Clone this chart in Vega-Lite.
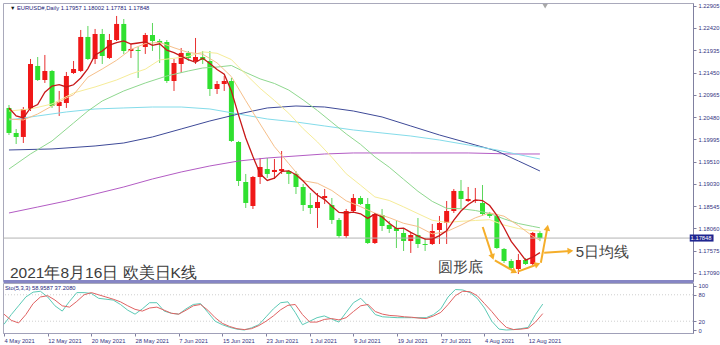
{
"$schema":"https://vega.github.io/schema/vega-lite/v6.json",
"padding":{"left":1,"top":2,"right":0,"bottom":0},
"background":"white",
"spacing":2,
"bounds":"flush",
"config":{"view":{"stroke":"#a9a9bb","strokeWidth":1},"text":{"font":"Liberation Sans"},"axis":{"labelFont":"Liberation Sans"}},
"datasets":{
"candles":[
{"i":0,"o":1.20679,"h":1.20744,"l":1.20091,"c":1.20135},
{"i":1,"o":1.20135,"h":1.20222,"l":1.19895,"c":1.20048},
{"i":2,"o":1.20048,"h":1.20700,"l":1.19917,"c":1.20657},
{"i":3,"o":1.20657,"h":1.21745,"l":1.20613,"c":1.21636},
{"i":4,"o":1.21593,"h":1.21788,"l":1.21266,"c":1.21288},
{"i":5,"o":1.21288,"h":1.21832,"l":1.21223,"c":1.21484},
{"i":6,"o":1.21484,"h":1.21506,"l":1.20679,"c":1.20722},
{"i":7,"o":1.20722,"h":1.21049,"l":1.20505,"c":1.20809},
{"i":8,"o":1.20788,"h":1.21462,"l":1.20679,"c":1.21375},
{"i":9,"o":1.21440,"h":1.21701,"l":1.21419,"c":1.21527},
{"i":10,"o":1.21484,"h":1.22376,"l":1.21462,"c":1.22224},
{"i":11,"o":1.22224,"h":1.22463,"l":1.21723,"c":1.21745},
{"i":12,"o":1.21745,"h":1.22398,"l":1.21636,"c":1.22289},
{"i":13,"o":1.22289,"h":1.22398,"l":1.21636,"c":1.21810},
{"i":14,"o":1.21767,"h":1.22289,"l":1.21745,"c":1.22158},
{"i":15,"o":1.22158,"h":1.22681,"l":1.22137,"c":1.22507},
{"i":16,"o":1.22507,"h":1.22615,"l":1.21854,"c":1.21919},
{"i":17,"o":1.21919,"h":1.22071,"l":1.21767,"c":1.21963},
{"i":18,"o":1.21941,"h":1.22006,"l":1.21332,"c":1.21919},
{"i":19,"o":1.22006,"h":1.22311,"l":1.21854,"c":1.22267},
{"i":20,"o":1.22267,"h":1.22528,"l":1.21919,"c":1.22137},
{"i":21,"o":1.22137,"h":1.22180,"l":1.21658,"c":1.22093},
{"i":22,"o":1.22115,"h":1.22158,"l":1.21223,"c":1.21266},
{"i":23,"o":1.21266,"h":1.21745,"l":1.21049,"c":1.21658},
{"i":24,"o":1.21636,"h":1.21984,"l":1.21440,"c":1.21876},
{"i":25,"o":1.21876,"h":1.21919,"l":1.21701,"c":1.21767},
{"i":26,"o":1.21701,"h":1.22202,"l":1.21636,"c":1.21788},
{"i":27,"o":1.21788,"h":1.21919,"l":1.21636,"c":1.21723},
{"i":28,"o":1.21701,"h":1.21919,"l":1.20940,"c":1.21092},
{"i":29,"o":1.21092,"h":1.21266,"l":1.20983,"c":1.21201},
{"i":30,"o":1.21201,"h":1.21375,"l":1.21049,"c":1.21266},
{"i":31,"o":1.21266,"h":1.21332,"l":1.19939,"c":1.19961},
{"i":32,"o":1.19939,"h":1.19961,"l":1.18981,"c":1.19090},
{"i":33,"o":1.19068,"h":1.19243,"l":1.18503,"c":1.18612},
{"i":34,"o":1.18546,"h":1.19199,"l":1.18481,"c":1.19177},
{"i":35,"o":1.19177,"h":1.19591,"l":1.19025,"c":1.19395},
{"i":36,"o":1.19351,"h":1.19591,"l":1.19156,"c":1.19243},
{"i":37,"o":1.19286,"h":1.19569,"l":1.19134,"c":1.19330},
{"i":38,"o":1.19308,"h":1.19743,"l":1.19243,"c":1.19351},
{"i":39,"o":1.19308,"h":1.19330,"l":1.19025,"c":1.19243},
{"i":40,"o":1.19243,"h":1.19308,"l":1.18807,"c":1.18960},
{"i":41,"o":1.18960,"h":1.19025,"l":1.18437,"c":1.18568},
{"i":42,"o":1.18568,"h":1.18829,"l":1.18372,"c":1.18503},
{"i":43,"o":1.18503,"h":1.18829,"l":1.18068,"c":1.18633},
{"i":44,"o":1.18720,"h":1.18916,"l":1.18590,"c":1.18764},
{"i":45,"o":1.18568,"h":1.18720,"l":1.18155,"c":1.18242},
{"i":46,"o":1.18242,"h":1.18285,"l":1.17850,"c":1.17893},
{"i":47,"o":1.17893,"h":1.18481,"l":1.17850,"c":1.18437},
{"i":48,"o":1.18437,"h":1.18807,"l":1.18394,"c":1.18720},
{"i":49,"o":1.18720,"h":1.18764,"l":1.18568,"c":1.18590},
{"i":50,"o":1.18590,"h":1.18720,"l":1.17719,"c":1.17741},
{"i":51,"o":1.17741,"h":1.18394,"l":1.17719,"c":1.18372},
{"i":52,"o":1.18350,"h":1.18481,"l":1.18002,"c":1.18111},
{"i":53,"o":1.18133,"h":1.18220,"l":1.17959,"c":1.18046},
{"i":54,"o":1.18068,"h":1.18220,"l":1.17632,"c":1.18002},
{"i":55,"o":1.17959,"h":1.18068,"l":1.17567,"c":1.17785},
{"i":56,"o":1.17785,"h":1.17959,"l":1.17524,"c":1.17915},
{"i":57,"o":1.17915,"h":1.18285,"l":1.17632,"c":1.17719},
{"i":58,"o":1.17719,"h":1.17850,"l":1.17567,"c":1.17698},
{"i":59,"o":1.17719,"h":1.18155,"l":1.17698,"c":1.18002},
{"i":60,"o":1.18024,"h":1.18329,"l":1.17719,"c":1.18176},
{"i":61,"o":1.18176,"h":1.18655,"l":1.17719,"c":1.18437},
{"i":62,"o":1.18437,"h":1.18916,"l":1.18394,"c":1.18873},
{"i":63,"o":1.18873,"h":1.19112,"l":1.18503,"c":1.18699},
{"i":64,"o":1.18655,"h":1.18960,"l":1.18633,"c":1.18699},
{"i":65,"o":1.18655,"h":1.18938,"l":1.18612,"c":1.18677},
{"i":66,"o":1.18612,"h":1.19003,"l":1.18329,"c":1.18372},
{"i":67,"o":1.18372,"h":1.18416,"l":1.18285,"c":1.18329},
{"i":68,"o":1.18329,"h":1.18372,"l":1.17611,"c":1.17632},
{"i":69,"o":1.17611,"h":1.17632,"l":1.17306,"c":1.17349},
{"i":70,"o":1.17349,"h":1.17393,"l":1.17175,"c":1.17197},
{"i":71,"o":1.17175,"h":1.17502,"l":1.17067,"c":1.17371},
{"i":72,"o":1.17371,"h":1.17415,"l":1.17262,"c":1.17284},
{"i":73,"o":1.17284,"h":1.17980,"l":1.17262,"c":1.17959},
{"i":74,"o":1.17957,"h":1.18002,"l":1.17781,"c":1.17848}
],
"ma":[
{"m":"ma240","i":0,"p":1.18394},{"m":"ma240","i":4,"p":1.18524},{"m":"ma240","i":8,"p":1.18655},{"m":"ma240","i":12,"p":1.18807},{"m":"ma240","i":16,"p":1.18960},{"m":"ma240","i":20,"p":1.19134},{"m":"ma240","i":24,"p":1.19286},{"m":"ma240","i":28,"p":1.19417},{"m":"ma240","i":32,"p":1.19525},{"m":"ma240","i":36,"p":1.19591},{"m":"ma240","i":40,"p":1.19634},{"m":"ma240","i":44,"p":1.19678},{"m":"ma240","i":48,"p":1.19700},{"m":"ma240","i":56,"p":1.19700},{"m":"ma240","i":64,"p":1.19700},{"m":"ma240","i":70,"p":1.19678},{"m":"ma240","i":74,"p":1.19678},
{"m":"ma120","i":0,"p":1.19765},{"m":"ma120","i":6,"p":1.19787},{"m":"ma120","i":12,"p":1.19852},{"m":"ma120","i":16,"p":1.19917},{"m":"ma120","i":20,"p":1.20048},{"m":"ma120","i":24,"p":1.20222},{"m":"ma120","i":28,"p":1.20396},{"m":"ma120","i":32,"p":1.20548},{"m":"ma120","i":36,"p":1.20679},{"m":"ma120","i":40,"p":1.20722},{"m":"ma120","i":44,"p":1.20700},{"m":"ma120","i":48,"p":1.20613},{"m":"ma120","i":52,"p":1.20483},{"m":"ma120","i":56,"p":1.20287},{"m":"ma120","i":60,"p":1.20091},{"m":"ma120","i":64,"p":1.19917},{"m":"ma120","i":68,"p":1.19743},{"m":"ma120","i":71,"p":1.19526},{"m":"ma120","i":74,"p":1.19308},
{"m":"ma60","i":0,"p":1.20418},{"m":"ma60","i":4,"p":1.20505},{"m":"ma60","i":8,"p":1.20592},{"m":"ma60","i":12,"p":1.20657},{"m":"ma60","i":16,"p":1.20679},{"m":"ma60","i":20,"p":1.20700},{"m":"ma60","i":24,"p":1.20700},{"m":"ma60","i":28,"p":1.20657},{"m":"ma60","i":32,"p":1.20548},{"m":"ma60","i":36,"p":1.20439},{"m":"ma60","i":40,"p":1.20374},{"m":"ma60","i":44,"p":1.20287},{"m":"ma60","i":48,"p":1.20200},{"m":"ma60","i":52,"p":1.20135},{"m":"ma60","i":56,"p":1.20069},{"m":"ma60","i":60,"p":1.19982},{"m":"ma60","i":64,"p":1.19874},{"m":"ma60","i":68,"p":1.19765},{"m":"ma60","i":72,"p":1.19634},{"m":"ma60","i":74,"p":1.19569},
{"m":"ma30","i":0,"p":1.19351},{"m":"ma30","i":3,"p":1.19678},{"m":"ma30","i":6,"p":1.19961},{"m":"ma30","i":9,"p":1.20352},{"m":"ma30","i":11,"p":1.20613},{"m":"ma30","i":13,"p":1.20831},{"m":"ma30","i":16,"p":1.21049},{"m":"ma30","i":19,"p":1.21223},{"m":"ma30","i":22,"p":1.21375},{"m":"ma30","i":25,"p":1.21484},{"m":"ma30","i":27,"p":1.21549},{"m":"ma30","i":29,"p":1.21569},{"m":"ma30","i":31,"p":1.21603},{"m":"ma30","i":33,"p":1.21451},{"m":"ma30","i":35,"p":1.21312},{"m":"ma30","i":37,"p":1.21212},{"m":"ma30","i":39,"p":1.21068},{"m":"ma30","i":41,"p":1.20855},{"m":"ma30","i":43,"p":1.20622},{"m":"ma30","i":45,"p":1.20368},{"m":"ma30","i":47,"p":1.20115},{"m":"ma30","i":49,"p":1.19887},{"m":"ma30","i":51,"p":1.19615},{"m":"ma30","i":53,"p":1.19390},{"m":"ma30","i":55,"p":1.19127},{"m":"ma30","i":57,"p":1.18866},{"m":"ma30","i":59,"p":1.18646},{"m":"ma30","i":61,"p":1.18494},{"m":"ma30","i":63,"p":1.18487},{"m":"ma30","i":65,"p":1.18448},{"m":"ma30","i":67,"p":1.18385},{"m":"ma30","i":69,"p":1.18265},{"m":"ma30","i":71,"p":1.18165},{"m":"ma30","i":73,"p":1.18102},{"m":"ma30","i":74,"p":1.18072},
{"m":"ma20","i":0,"p":1.20613},{"m":"ma20","i":3,"p":1.20657},{"m":"ma20","i":6,"p":1.20766},{"m":"ma20","i":9,"p":1.21005},{"m":"ma20","i":12,"p":1.21136},{"m":"ma20","i":15,"p":1.21288},{"m":"ma20","i":17,"p":1.21419},{"m":"ma20","i":19,"p":1.21523},{"m":"ma20","i":21,"p":1.21725},{"m":"ma20","i":23,"p":1.21760},{"m":"ma20","i":25,"p":1.21802},{"m":"ma20","i":27,"p":1.21899},{"m":"ma20","i":29,"p":1.21869},{"m":"ma20","i":31,"p":1.21732},{"m":"ma20","i":33,"p":1.21412},{"m":"ma20","i":35,"p":1.21107},{"m":"ma20","i":37,"p":1.20842},{"m":"ma20","i":39,"p":1.20563},{"m":"ma20","i":41,"p":1.20228},{"m":"ma20","i":43,"p":1.19939},{"m":"ma20","i":45,"p":1.19606},{"m":"ma20","i":47,"p":1.19247},{"m":"ma20","i":49,"p":1.18999},{"m":"ma20","i":51,"p":1.18743},{"m":"ma20","i":53,"p":1.18666},{"m":"ma20","i":55,"p":1.18527},{"m":"ma20","i":57,"p":1.18380},{"m":"ma20","i":59,"p":1.18235},{"m":"ma20","i":61,"p":1.18189},{"m":"ma20","i":63,"p":1.18213},{"m":"ma20","i":65,"p":1.18231},{"m":"ma20","i":67,"p":1.18248},{"m":"ma20","i":69,"p":1.18132},{"m":"ma20","i":71,"p":1.18055},{"m":"ma20","i":73,"p":1.18009},{"m":"ma20","i":74,"p":1.18000},
{"m":"ma10","i":0,"p":1.20439},{"m":"ma10","i":2,"p":1.20418},{"m":"ma10","i":4,"p":1.20548},{"m":"ma10","i":6,"p":1.20722},{"m":"ma10","i":8,"p":1.20896},{"m":"ma10","i":9,"p":1.20968},{"m":"ma10","i":11,"p":1.21349},{"m":"ma10","i":13,"p":1.21527},{"m":"ma10","i":15,"p":1.21717},{"m":"ma10","i":17,"p":1.21952},{"m":"ma10","i":19,"p":1.22080},{"m":"ma10","i":21,"p":1.22106},{"m":"ma10","i":23,"p":1.21989},{"m":"ma10","i":25,"p":1.21886},{"m":"ma10","i":27,"p":1.21849},{"m":"ma10","i":29,"p":1.21660},{"m":"ma10","i":31,"p":1.21360},{"m":"ma10","i":33,"p":1.20838},{"m":"ma10","i":35,"p":1.20331},{"m":"ma10","i":37,"p":1.19837},{"m":"ma10","i":39,"p":1.19467},{"m":"ma10","i":41,"p":1.19097},{"m":"ma10","i":43,"p":1.19040},{"m":"ma10","i":45,"p":1.18883},{"m":"ma10","i":47,"p":1.18659},{"m":"ma10","i":49,"p":1.18531},{"m":"ma10","i":51,"p":1.18390},{"m":"ma10","i":53,"p":1.18292},{"m":"ma10","i":55,"p":1.18170},{"m":"ma10","i":57,"p":1.18100},{"m":"ma10","i":59,"p":1.17939},{"m":"ma10","i":61,"p":1.17989},{"m":"ma10","i":63,"p":1.18131},{"m":"ma10","i":65,"p":1.18289},{"m":"ma10","i":67,"p":1.18396},{"m":"ma10","i":69,"p":1.18324},{"m":"ma10","i":71,"p":1.18120},{"m":"ma10","i":73,"p":1.17887},{"m":"ma10","i":74,"p":1.17802}
],
"ma5":[
{"i":0,"p":1.20679},{"i":1,"p":1.20505},{"i":2,"p":1.20461},{"i":3,"p":1.20679},{"i":4,"p":1.20753},{"i":5,"p":1.21023},{"i":6,"p":1.21157},{"i":7,"p":1.21188},{"i":8,"p":1.21136},{"i":9,"p":1.21184},{"i":10,"p":1.21331},{"i":11,"p":1.21536},{"i":12,"p":1.21832},{"i":13,"p":1.21919},{"i":14,"p":1.22045},{"i":15,"p":1.22102},{"i":16,"p":1.22137},{"i":17,"p":1.22071},{"i":18,"p":1.22093},{"i":19,"p":1.22115},{"i":20,"p":1.22041},{"i":21,"p":1.22076},{"i":22,"p":1.21936},{"i":23,"p":1.21884},{"i":24,"p":1.21806},{"i":25,"p":1.21732},{"i":26,"p":1.21671},{"i":27,"p":1.21762},{"i":28,"p":1.21649},{"i":29,"p":1.21514},{"i":30,"p":1.21414},{"i":31,"p":1.21049},{"i":32,"p":1.20522},{"i":33,"p":1.20026},{"i":34,"p":1.19621},{"i":35,"p":1.19247},{"i":36,"p":1.19103},{"i":37,"p":1.19151},{"i":38,"p":1.19299},{"i":39,"p":1.19312},{"i":40,"p":1.19225},{"i":41,"p":1.19090},{"i":42,"p":1.18925},{"i":43,"p":1.18781},{"i":44,"p":1.18685},{"i":45,"p":1.18542},{"i":46,"p":1.18407},{"i":47,"p":1.18394},{"i":48,"p":1.18411},{"i":49,"p":1.18376},{"i":50,"p":1.18276},{"i":51,"p":1.18372},{"i":52,"p":1.18307},{"i":53,"p":1.18172},{"i":54,"p":1.18054},{"i":55,"p":1.18063},{"i":56,"p":1.17972},{"i":57,"p":1.17893},{"i":58,"p":1.17824},{"i":59,"p":1.17824},{"i":60,"p":1.17902},{"i":61,"p":1.18007},{"i":62,"p":1.18237},{"i":63,"p":1.18437},{"i":64,"p":1.18577},{"i":65,"p":1.18677},{"i":66,"p":1.18664},{"i":67,"p":1.18555},{"i":68,"p":1.18342},{"i":69,"p":1.18072},{"i":70,"p":1.17776},{"i":71,"p":1.17576},{"i":72,"p":1.17367},{"i":73,"p":1.17432},{"i":74,"p":1.17532}
],
"stoch":[
{"s":"K","i":0,"v":13},{"s":"K","i":1,"v":35},{"s":"K","i":2,"v":55},{"s":"K","i":3,"v":75},{"s":"K","i":4,"v":86},{"s":"K","i":5,"v":88},{"s":"K","i":6,"v":75},{"s":"K","i":7,"v":55},{"s":"K","i":8,"v":43},{"s":"K","i":9,"v":65},{"s":"K","i":10,"v":85},{"s":"K","i":11,"v":85},{"s":"K","i":12,"v":83},{"s":"K","i":13,"v":72},{"s":"K","i":14,"v":70},{"s":"K","i":15,"v":68},{"s":"K","i":16,"v":58},{"s":"K","i":17,"v":45},{"s":"K","i":18,"v":36},{"s":"K","i":19,"v":48},{"s":"K","i":20,"v":62},{"s":"K","i":21,"v":62},{"s":"K","i":22,"v":43},{"s":"K","i":23,"v":38},{"s":"K","i":24,"v":36},{"s":"K","i":25,"v":48},{"s":"K","i":26,"v":58},{"s":"K","i":27,"v":60},{"s":"K","i":28,"v":40},{"s":"K","i":29,"v":20},{"s":"K","i":30,"v":12},{"s":"K","i":31,"v":6},{"s":"K","i":32,"v":2},{"s":"K","i":33,"v":0},{"s":"K","i":34,"v":5},{"s":"K","i":35,"v":12},{"s":"K","i":36,"v":30},{"s":"K","i":37,"v":48},{"s":"K","i":38,"v":62},{"s":"K","i":39,"v":64},{"s":"K","i":40,"v":40},{"s":"K","i":41,"v":12},{"s":"K","i":42,"v":20},{"s":"K","i":43,"v":28},{"s":"K","i":44,"v":32},{"s":"K","i":45,"v":25},{"s":"K","i":46,"v":18},{"s":"K","i":47,"v":40},{"s":"K","i":48,"v":62},{"s":"K","i":49,"v":72},{"s":"K","i":50,"v":55},{"s":"K","i":51,"v":35},{"s":"K","i":52,"v":30},{"s":"K","i":53,"v":29},{"s":"K","i":54,"v":28},{"s":"K","i":55,"v":28},{"s":"K","i":56,"v":28},{"s":"K","i":57,"v":28},{"s":"K","i":58,"v":28},{"s":"K","i":59,"v":35},{"s":"K","i":60,"v":48},{"s":"K","i":61,"v":75},{"s":"K","i":62,"v":92},{"s":"K","i":63,"v":91},{"s":"K","i":64,"v":85},{"s":"K","i":65,"v":72},{"s":"K","i":66,"v":50},{"s":"K","i":67,"v":20},{"s":"K","i":68,"v":2},{"s":"K","i":69,"v":0},{"s":"K","i":70,"v":1},{"s":"K","i":71,"v":3},{"s":"K","i":72,"v":6},{"s":"K","i":73,"v":35},{"s":"K","i":74,"v":58.96},
{"s":"D","i":0,"v":36},{"s":"D","i":1,"v":22},{"s":"D","i":2,"v":16},{"s":"D","i":3,"v":35},{"s":"D","i":4,"v":60},{"s":"D","i":5,"v":75},{"s":"D","i":6,"v":78},{"s":"D","i":7,"v":68},{"s":"D","i":8,"v":55},{"s":"D","i":9,"v":52},{"s":"D","i":10,"v":65},{"s":"D","i":11,"v":80},{"s":"D","i":12,"v":85},{"s":"D","i":13,"v":80},{"s":"D","i":14,"v":75},{"s":"D","i":15,"v":70},{"s":"D","i":16,"v":64},{"s":"D","i":17,"v":55},{"s":"D","i":18,"v":47},{"s":"D","i":19,"v":43},{"s":"D","i":20,"v":50},{"s":"D","i":21,"v":52},{"s":"D","i":22,"v":45},{"s":"D","i":23,"v":38},{"s":"D","i":24,"v":36},{"s":"D","i":25,"v":45},{"s":"D","i":26,"v":55},{"s":"D","i":27,"v":58},{"s":"D","i":28,"v":45},{"s":"D","i":29,"v":28},{"s":"D","i":30,"v":15},{"s":"D","i":31,"v":8},{"s":"D","i":32,"v":3},{"s":"D","i":33,"v":1},{"s":"D","i":34,"v":3},{"s":"D","i":35,"v":10},{"s":"D","i":36,"v":20},{"s":"D","i":37,"v":32},{"s":"D","i":38,"v":46},{"s":"D","i":39,"v":56},{"s":"D","i":40,"v":58},{"s":"D","i":41,"v":35},{"s":"D","i":42,"v":18},{"s":"D","i":43,"v":18},{"s":"D","i":44,"v":24},{"s":"D","i":45,"v":26},{"s":"D","i":46,"v":23},{"s":"D","i":47,"v":28},{"s":"D","i":48,"v":42},{"s":"D","i":49,"v":55},{"s":"D","i":50,"v":58},{"s":"D","i":51,"v":42},{"s":"D","i":52,"v":36},{"s":"D","i":53,"v":33},{"s":"D","i":54,"v":32},{"s":"D","i":55,"v":30},{"s":"D","i":56,"v":29},{"s":"D","i":57,"v":27},{"s":"D","i":58,"v":26},{"s":"D","i":59,"v":32},{"s":"D","i":60,"v":40},{"s":"D","i":61,"v":58},{"s":"D","i":62,"v":78},{"s":"D","i":63,"v":88},{"s":"D","i":64,"v":87},{"s":"D","i":65,"v":78},{"s":"D","i":66,"v":60},{"s":"D","i":67,"v":42},{"s":"D","i":68,"v":22},{"s":"D","i":69,"v":6},{"s":"D","i":70,"v":1},{"s":"D","i":71,"v":2},{"s":"D","i":72,"v":4},{"s":"D","i":73,"v":18},{"s":"D","i":74,"v":37.21}
],
"arrows":[
{"i":66.03,"p":1.18089,"i2":67.40,"p2":1.17436},
{"i":67.72,"p":1.17365,"i2":70.47,"p2":1.17117},
{"i":70.92,"p":1.17117,"i2":73.67,"p2":1.17278},
{"i":74.13,"p":1.17312,"i2":75.04,"p2":1.18074},
{"i":74.59,"p":1.17530,"i2":78.25,"p2":1.17567}
],
"heads":[
{"i":67.40,"p":1.17436,"a":161.6},
{"i":70.47,"p":1.17117,"a":119.7},
{"i":73.67,"p":1.17278,"a":69.7},
{"i":75.04,"p":1.18074,"a":10.7},
{"i":78.25,"p":1.17567,"a":86.4}
]
},
"vconcat":[
{
"width":690,"height":278,
"layer":[
{"data":{"name":"candles"},"mark":{"type":"rule","strokeWidth":1},
"encoding":{
"x":{"field":"i","type":"quantitative","scale":{"domain":[-0.137,94.64],"nice":false,"zero":false},"axis":{"orient":"bottom","labels":false,"ticks":false,"domainColor":"#8686c4","domainWidth":3,"title":null,"grid":false}},
"y":{"field":"l","type":"quantitative","scale":{"domain":[1.16914,1.22963],"nice":false,"zero":false},"axis":{"orient":"right","values":[1.22905,1.2242,1.21935,1.2145,1.20965,1.2048,1.19995,1.1951,1.1903,1.18545,1.1806,1.17575,1.1709],"format":".5f","labelFontSize":5.8,"labelColor":"#33337f","tickSize":3,"tickColor":"#8080a0","domainColor":"#8080a0","labelPadding":2,"title":null,"grid":false}},
"y2":{"field":"h"},
"color":{"condition":{"test":"datum.c >= datum.o","value":"#e83030"},"value":"#5cd65c"}}},
{"data":{"name":"candles"},"mark":{"type":"bar","size":5},
"encoding":{
"x":{"field":"i","type":"quantitative","scale":{"domain":[-0.137,94.64],"nice":false,"zero":false},"axis":{"orient":"bottom","labels":false,"ticks":false,"domainColor":"#8686c4","domainWidth":3,"title":null,"grid":false}},
"y":{"field":"o","type":"quantitative","scale":{"domain":[1.16914,1.22963],"nice":false,"zero":false},"axis":{"orient":"right","values":[1.22905,1.2242,1.21935,1.2145,1.20965,1.2048,1.19995,1.1951,1.1903,1.18545,1.1806,1.17575,1.1709],"format":".5f","labelFontSize":5.8,"labelColor":"#33337f","tickSize":3,"tickColor":"#8080a0","domainColor":"#8080a0","labelPadding":2,"title":null,"grid":false}},
"y2":{"field":"c"},
"color":{"condition":{"test":"datum.c >= datum.o","value":"#f01818"},"value":"#30e030"}}},
{"data":{"values":[{"p":1.17848}]},"mark":{"type":"rule","color":"#b4b4b4","strokeWidth":1},
"encoding":{"y":{"field":"p","type":"quantitative","scale":{"domain":[1.16914,1.22963],"nice":false,"zero":false},"axis":{"orient":"right","values":[1.22905,1.2242,1.21935,1.2145,1.20965,1.2048,1.19995,1.1951,1.1903,1.18545,1.1806,1.17575,1.1709],"format":".5f","labelFontSize":5.8,"labelColor":"#33337f","tickSize":3,"tickColor":"#8080a0","domainColor":"#8080a0","labelPadding":2,"title":null,"grid":false}}}},
{"data":{"name":"ma"},"mark":{"type":"line","strokeWidth":1},
"encoding":{
"x":{"field":"i","type":"quantitative","scale":{"domain":[-0.137,94.64],"nice":false,"zero":false},"axis":{"orient":"bottom","labels":false,"ticks":false,"domainColor":"#8686c4","domainWidth":3,"title":null,"grid":false}},
"y":{"field":"p","type":"quantitative","scale":{"domain":[1.16914,1.22963],"nice":false,"zero":false},"axis":{"orient":"right","values":[1.22905,1.2242,1.21935,1.2145,1.20965,1.2048,1.19995,1.1951,1.1903,1.18545,1.1806,1.17575,1.1709],"format":".5f","labelFontSize":5.8,"labelColor":"#33337f","tickSize":3,"tickColor":"#8080a0","domainColor":"#8080a0","labelPadding":2,"title":null,"grid":false}},
"detail":{"field":"m"},
"color":{"field":"m","type":"nominal","scale":{"domain":["ma10","ma20","ma30","ma60","ma120","ma240"],"range":["#f6bf8a","#f6ec98","#8fd88f","#84dcea","#3e4a98","#b35cc4"]},"legend":null}}},
{"data":{"name":"ma5"},"mark":{"type":"line","strokeWidth":1.3,"color":"#c81818"},
"encoding":{
"x":{"field":"i","type":"quantitative","scale":{"domain":[-0.137,94.64],"nice":false,"zero":false},"axis":{"orient":"bottom","labels":false,"ticks":false,"domainColor":"#8686c4","domainWidth":3,"title":null,"grid":false}},
"y":{"field":"p","type":"quantitative","scale":{"domain":[1.16914,1.22963],"nice":false,"zero":false},"axis":{"orient":"right","values":[1.22905,1.2242,1.21935,1.2145,1.20965,1.2048,1.19995,1.1951,1.1903,1.18545,1.1806,1.17575,1.1709],"format":".5f","labelFontSize":5.8,"labelColor":"#33337f","tickSize":3,"tickColor":"#8080a0","domainColor":"#8080a0","labelPadding":2,"title":null,"grid":false}}}},
{"data":{"name":"arrows"},"mark":{"type":"rule","color":"#f5ae2a","strokeWidth":2},
"encoding":{
"x":{"field":"i","type":"quantitative","scale":{"domain":[-0.137,94.64],"nice":false,"zero":false},"axis":{"orient":"bottom","labels":false,"ticks":false,"domainColor":"#8686c4","domainWidth":3,"title":null,"grid":false}},
"y":{"field":"p","type":"quantitative","scale":{"domain":[1.16914,1.22963],"nice":false,"zero":false},"axis":{"orient":"right","values":[1.22905,1.2242,1.21935,1.2145,1.20965,1.2048,1.19995,1.1951,1.1903,1.18545,1.1806,1.17575,1.1709],"format":".5f","labelFontSize":5.8,"labelColor":"#33337f","tickSize":3,"tickColor":"#8080a0","domainColor":"#8080a0","labelPadding":2,"title":null,"grid":false}},
"x2":{"field":"i2"},"y2":{"field":"p2"}}},
{"data":{"name":"heads"},"mark":{"type":"point","shape":"triangle-up","filled":true,"color":"#f5ae2a","size":45,"opacity":1},
"encoding":{
"x":{"field":"i","type":"quantitative","scale":{"domain":[-0.137,94.64],"nice":false,"zero":false},"axis":{"orient":"bottom","labels":false,"ticks":false,"domainColor":"#8686c4","domainWidth":3,"title":null,"grid":false}},
"y":{"field":"p","type":"quantitative","scale":{"domain":[1.16914,1.22963],"nice":false,"zero":false},"axis":{"orient":"right","values":[1.22905,1.2242,1.21935,1.2145,1.20965,1.2048,1.19995,1.1951,1.1903,1.18545,1.1806,1.17575,1.1709],"format":".5f","labelFontSize":5.8,"labelColor":"#33337f","tickSize":3,"tickColor":"#8080a0","domainColor":"#8080a0","labelPadding":2,"title":null,"grid":false}},
"angle":{"field":"a","type":"quantitative","scale":null}}},
{"data":{"values":[{"i":74.73,"p":1.22895}]},"mark":{"type":"point","shape":"triangle-down","filled":true,"color":"#a8a8a8","size":30,"opacity":1},
"encoding":{
"x":{"field":"i","type":"quantitative","scale":{"domain":[-0.137,94.64],"nice":false,"zero":false},"axis":{"orient":"bottom","labels":false,"ticks":false,"domainColor":"#8686c4","domainWidth":3,"title":null,"grid":false}},
"y":{"field":"p","type":"quantitative","scale":{"domain":[1.16914,1.22963],"nice":false,"zero":false},"axis":{"orient":"right","values":[1.22905,1.2242,1.21935,1.2145,1.20965,1.2048,1.19995,1.1951,1.1903,1.18545,1.1806,1.17575,1.1709],"format":".5f","labelFontSize":5.8,"labelColor":"#33337f","tickSize":3,"tickColor":"#8080a0","domainColor":"#8080a0","labelPadding":2,"title":null,"grid":false}}}},
{"data":{"values":[{"i":94.88,"p":1.17926,"i2":98.2,"p2":1.17772}]},"mark":{"type":"rect","color":"#1f2590"},
"encoding":{
"x":{"field":"i","type":"quantitative","scale":{"domain":[-0.137,94.64],"nice":false,"zero":false},"axis":{"orient":"bottom","labels":false,"ticks":false,"domainColor":"#8686c4","domainWidth":3,"title":null,"grid":false}},
"y":{"field":"p","type":"quantitative","scale":{"domain":[1.16914,1.22963],"nice":false,"zero":false},"axis":{"orient":"right","values":[1.22905,1.2242,1.21935,1.2145,1.20965,1.2048,1.19995,1.1951,1.1903,1.18545,1.1806,1.17575,1.1709],"format":".5f","labelFontSize":5.8,"labelColor":"#33337f","tickSize":3,"tickColor":"#8080a0","domainColor":"#8080a0","labelPadding":2,"title":null,"grid":false}},
"x2":{"field":"i2"},"y2":{"field":"p2"}}},
{"data":{"values":[
{"i":95.0,"p":1.17848,"t":"1.17848","f":"Liberation Sans","z":5.8,"k":"#ffffff"},
{"i":0.137,"p":1.22855,"t":"▼","f":"DejaVu Sans","z":5.5,"k":"#111111"},
{"i":1.1,"p":1.22855,"t":"EURUSD#,Daily  1.17957 1.18002 1.17781 1.17848","f":"Liberation Sans","z":5.8,"k":"#24247a"},
{"i":0.137,"p":1.17088,"t":"2021年8月16日 欧美日K线","f":"Noto Sans CJK SC","z":15.5,"k":"#3c3c3c"},
{"i":59.75,"p":1.17212,"t":"圆形底","f":"Noto Sans CJK SC","z":15,"k":"#444444"},
{"i":78.98,"p":1.1755,"t":"5日均线","f":"Noto Sans CJK SC","z":15,"k":"#444444"}
]},
"mark":{"type":"text","align":"left","baseline":"middle"},
"encoding":{
"x":{"field":"i","type":"quantitative","scale":{"domain":[-0.137,94.64],"nice":false,"zero":false},"axis":{"orient":"bottom","labels":false,"ticks":false,"domainColor":"#8686c4","domainWidth":3,"title":null,"grid":false}},
"y":{"field":"p","type":"quantitative","scale":{"domain":[1.16914,1.22963],"nice":false,"zero":false},"axis":{"orient":"right","values":[1.22905,1.2242,1.21935,1.2145,1.20965,1.2048,1.19995,1.1951,1.1903,1.18545,1.1806,1.17575,1.1709],"format":".5f","labelFontSize":5.8,"labelColor":"#33337f","tickSize":3,"tickColor":"#8080a0","domainColor":"#8080a0","labelPadding":2,"title":null,"grid":false}},
"text":{"field":"t"},
"font":{"field":"f","type":"nominal","scale":null},
"size":{"field":"z","type":"quantitative","scale":null},
"color":{"field":"k","type":"nominal","scale":null}}}
]
},
{
"width":690,"height":50,
"layer":[
{"data":{"values":[{"v":80},{"v":20}]},"mark":{"type":"rule","color":"#cfcfcf","strokeDash":[1,2],"strokeWidth":1},
"encoding":{"y":{"field":"v","type":"quantitative","scale":{"domain":[-6.8,106.8],"nice":false,"zero":false},"axis":{"orient":"right","values":[0,20,80,100],"labelFontSize":5.8,"labelColor":"#33337f","tickSize":3,"tickColor":"#8080a0","domainColor":"#8080a0","labelPadding":2,"title":null,"grid":false}}}},
{"data":{"name":"stoch"},"transform":[{"filter":"datum.s == 'K'"}],"mark":{"type":"line","strokeWidth":1,"color":"#5ccab6"},
"encoding":{
"x":{"field":"i","type":"quantitative","scale":{"domain":[-0.137,94.64],"nice":false,"zero":false},"axis":{"orient":"bottom","values":[0,6,12,18,24,30,36,42,48,54,60,66,72],"labelExpr":"['4 May 2021','12 May 2021','20 May 2021','28 May 2021','7 Jun 2021','15 Jun 2021','23 Jun 2021','1 Jul 2021','9 Jul 2021','19 Jul 2021','27 Jul 2021','4 Aug 2021','12 Aug 2021'][round(datum.value/6)]","labelAlign":"left","labelFontSize":5.8,"labelColor":"#33337f","tickSize":3,"tickColor":"#8080a0","domainColor":"#a0a0b8","labelPadding":1,"labelFlush":false,"labelOverlap":false,"title":null,"grid":false}},
"y":{"field":"v","type":"quantitative","scale":{"domain":[-6.8,106.8],"nice":false,"zero":false},"axis":{"orient":"right","values":[0,20,80,100],"labelFontSize":5.8,"labelColor":"#33337f","tickSize":3,"tickColor":"#8080a0","domainColor":"#8080a0","labelPadding":2,"title":null,"grid":false}}}},
{"data":{"name":"stoch"},"transform":[{"filter":"datum.s == 'D'"}],"mark":{"type":"line","strokeWidth":1,"color":"#e06262"},
"encoding":{
"x":{"field":"i","type":"quantitative","scale":{"domain":[-0.137,94.64],"nice":false,"zero":false},"axis":{"orient":"bottom","values":[0,6,12,18,24,30,36,42,48,54,60,66,72],"labelExpr":"['4 May 2021','12 May 2021','20 May 2021','28 May 2021','7 Jun 2021','15 Jun 2021','23 Jun 2021','1 Jul 2021','9 Jul 2021','19 Jul 2021','27 Jul 2021','4 Aug 2021','12 Aug 2021'][round(datum.value/6)]","labelAlign":"left","labelFontSize":5.8,"labelColor":"#33337f","tickSize":3,"tickColor":"#8080a0","domainColor":"#a0a0b8","labelPadding":1,"labelFlush":false,"labelOverlap":false,"title":null,"grid":false}},
"y":{"field":"v","type":"quantitative","scale":{"domain":[-6.8,106.8],"nice":false,"zero":false},"axis":{"orient":"right","values":[0,20,80,100],"labelFontSize":5.8,"labelColor":"#33337f","tickSize":3,"tickColor":"#8080a0","domainColor":"#8080a0","labelPadding":2,"title":null,"grid":false}}}},
{"data":{"values":[{"i":0.137,"v":95.5,"t":"Sto(5,3,3) 58.9587 37.2080"}]},"mark":{"type":"text","align":"left","baseline":"middle","fontSize":5.8,"color":"#24247a"},
"encoding":{
"x":{"field":"i","type":"quantitative","scale":{"domain":[-0.137,94.64],"nice":false,"zero":false},"axis":{"orient":"bottom","values":[0,6,12,18,24,30,36,42,48,54,60,66,72],"labelExpr":"['4 May 2021','12 May 2021','20 May 2021','28 May 2021','7 Jun 2021','15 Jun 2021','23 Jun 2021','1 Jul 2021','9 Jul 2021','19 Jul 2021','27 Jul 2021','4 Aug 2021','12 Aug 2021'][round(datum.value/6)]","labelAlign":"left","labelFontSize":5.8,"labelColor":"#33337f","tickSize":3,"tickColor":"#8080a0","domainColor":"#a0a0b8","labelPadding":1,"labelFlush":false,"labelOverlap":false,"title":null,"grid":false}},
"y":{"field":"v","type":"quantitative","scale":{"domain":[-6.8,106.8],"nice":false,"zero":false},"axis":{"orient":"right","values":[0,20,80,100],"labelFontSize":5.8,"labelColor":"#33337f","tickSize":3,"tickColor":"#8080a0","domainColor":"#8080a0","labelPadding":2,"title":null,"grid":false}},
"text":{"field":"t"}}}
]
}
]
}
